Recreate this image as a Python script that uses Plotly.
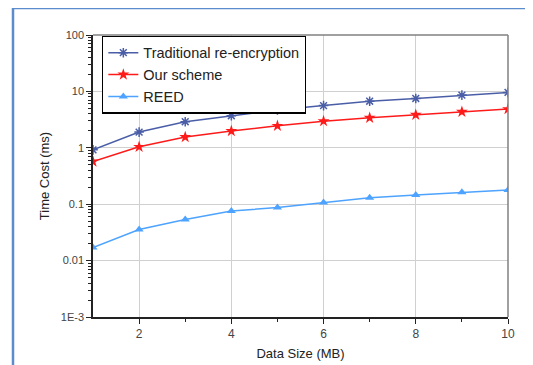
import plotly.graph_objects as go

data_size = [1, 2, 3, 4, 5, 6, 7, 8, 9, 10]
traditional = [0.92, 1.9, 2.9, 3.7, 4.7, 5.6, 6.7, 7.5, 8.6, 9.6]
our_scheme = [0.57, 1.04, 1.55, 1.98, 2.45, 2.97, 3.4, 3.85, 4.35, 4.85]
reed = [0.017, 0.0356, 0.0536, 0.076, 0.087, 0.107, 0.13, 0.145, 0.163, 0.178]

y_tickvals = [0.001, 0.01, 0.1, 1, 10, 100]
y_ticktext = ["1E-3", "0.01", "0.1", "1", "10", "100"]
x_tickvals = [2, 4, 6, 8, 10]
y_minor = [k * 10 ** e for e in range(-3, 2) for k in range(2, 10)]
x_minor = [3, 5, 7, 9]

fig = go.Figure()
fig.add_trace(go.Scatter(
    x=data_size, y=traditional, mode="lines+markers", name="Traditional re-encryption",
    line=dict(color="#4a5ea8", width=1.5),
    marker=dict(symbol="asterisk-open", size=8, color="#4a5ea8", line=dict(color="#4a5ea8", width=1.5))))
fig.add_trace(go.Scatter(
    x=data_size, y=our_scheme, mode="lines+markers", name="Our scheme",
    line=dict(color="#ff1a1a", width=1.5),
    marker=dict(symbol="star", size=9, color="#ff1a1a")))
fig.add_trace(go.Scatter(
    x=data_size, y=reed, mode="lines+markers", name="REED",
    line=dict(color="#4da3ff", width=1.5),
    marker=dict(symbol="triangle-up", size=8, color="#4da3ff")))

OFF = 8  # page body margin
W, H = 533 - OFF, 365 - OFF
L, T = 93 - OFF, 35 - OFF
R = W - (508 - OFF)
B = H - (317 - OFF)
pw, ph = W - L - R, H - T - B
fx = (13 - OFF - L) / pw
fy = 1 + (T - (8 - OFF)) / ph
fx_end = (530 - OFF - L) / pw
fy_end = -B / ph

fig.update_layout(
    width=W, height=H,
    margin=dict(l=L, r=R, t=T, b=B, autoexpand=False),
    paper_bgcolor="white", plot_bgcolor="white",
    font=dict(family="Liberation Sans, Arial, sans-serif", size=12, color="#333"),
    showlegend=True,
    legend=dict(x=0.022, y=0.998, xanchor="left", yanchor="top",
                bordercolor="black", borderwidth=1.2, bgcolor="white",
                font=dict(size=14.5, color="#222"), tracegroupgap=0,
                itemwidth=30),
    xaxis=dict(range=[1, 10], tickmode="array", tickvals=x_tickvals,
               showline=True, linecolor="#222", linewidth=1.5, mirror=False,
               ticks="outside", ticklen=5, tickcolor="#222",
               showgrid=True, gridcolor="#d0d0d0", gridwidth=1,
               minor=dict(tickmode="array", tickvals=x_minor, ticks="outside", ticklen=3,
                          tickcolor="#222", showgrid=False),
               title=dict(text="Data Size (MB)", font=dict(size=13, color="#222"), standoff=9),
               tickfont=dict(size=12, color="#444"), zeroline=False, automargin=False),
    yaxis=dict(type="log", range=[-3, 2], tickmode="array", tickvals=y_tickvals,
               ticktext=y_ticktext,
               showline=True, linecolor="#222", linewidth=1.5, mirror=False,
               ticks="outside", ticklen=5, tickcolor="#222",
               showgrid=True, gridcolor="#d0d0d0", gridwidth=1,
               minor=dict(tickmode="array", tickvals=y_minor, ticks="outside", ticklen=3,
                          tickcolor="#222", showgrid=False),
               title=dict(text="Time Cost (ms)", font=dict(size=13, color="#222"), standoff=8),
               tickfont=dict(size=11, color="#444"), zeroline=False, automargin=False),
    shapes=[
        # grey top and right frame of the plot area
        dict(type="line", xref="paper", yref="paper", x0=0, x1=1, y0=1, y1=1,
             line=dict(color="#808080", width=1.5)),
        dict(type="line", xref="paper", yref="paper", x0=1, x1=1, y0=0, y1=1,
             line=dict(color="#808080", width=1.5)),
        # blue outer page frame (left and top edges)
        dict(type="line", xref="paper", yref="paper", x0=fx, x1=fx, y0=fy_end, y1=fy,
             line=dict(color="#5b8ccc", width=2.5)),
        dict(type="line", xref="paper", yref="paper", x0=fx, x1=fx_end, y0=fy, y1=fy,
             line=dict(color="#5b8ccc", width=2.5)),
    ],
)

fig.write_html("out.html")
